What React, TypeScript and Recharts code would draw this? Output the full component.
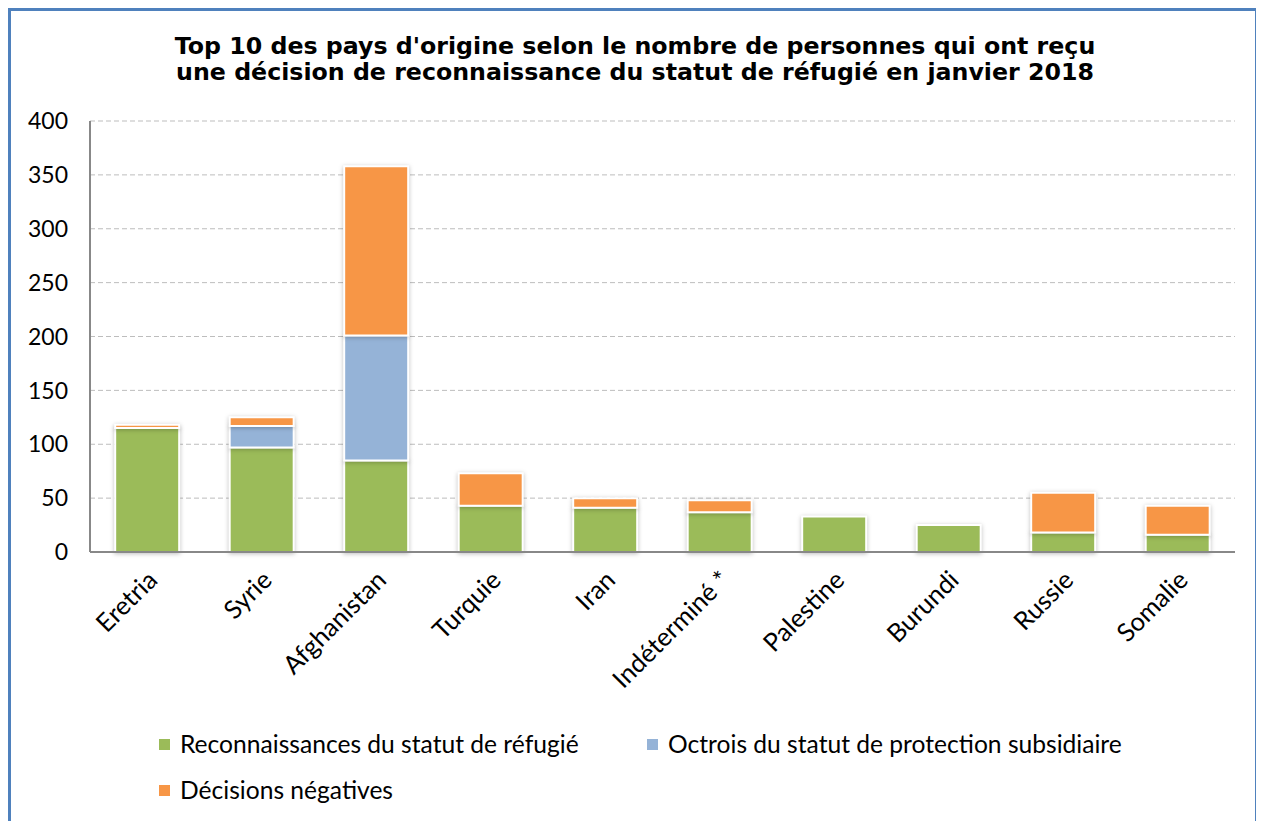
import React from "react";
import { BarChart, Bar, XAxis, YAxis, CartesianGrid } from "recharts";

const categories = ["Eretria", "Syrie", "Afghanistan", "Turquie", "Iran", "Indéterminé *", "Palestine", "Burundi", "Russie", "Somalie"];
const reconnaissances = [115, 97, 85, 43, 41, 37, 33, 25, 18, 16];
const protection = [0, 20, 116, 0, 0, 0, 0, 0, 0, 0];
const negatives = [3, 8, 157, 30, 9, 11, 0, 0, 37, 27];
const yTicks = [0, 50, 100, 150, 200, 250, 300, 350, 400];

const seriesNames = ["Reconnaissances du statut de réfugié", "Octrois du statut de protection subsidiaire", "Décisions négatives"];
const colors = ["#9BBB59", "#95B3D7", "#F79646"];

const data = categories.map((c, i) => ({
  name: c,
  rec: reconnaissances[i],
  prot: protection[i],
  neg: negatives[i],
}));

const FONT = "Lato, 'Open Sans', sans-serif";

const XTick = (props: any) => {
  const { x, y, payload } = props;
  return (
    <g transform={`translate(${x + 6},${y + 16})`}>
      <text textAnchor="end" transform="rotate(-45)" fontSize={25.5} fontFamily={FONT} fill="#000" dy={8}>
        {payload.value}
      </text>
    </g>
  );
};

export default function App() {
  const barStyle = { filter: "drop-shadow(0px 1px 2px rgba(0,0,0,0.25))" };
  return (
    <div style={{ position: "relative", width: 1250, height: 830 }}>
      <div style={{ position: "absolute", left: 0, top: 0, width: 1250, height: 830, border: "3px solid #4F81BD", boxSizing: "border-box" }} />
      <div style={{ position: "absolute", left: 0, top: 25, width: 1254, textAlign: "center", fontFamily: "'DejaVu Sans', Verdana, sans-serif", fontWeight: "bold", fontSize: 23.7, lineHeight: "26px", color: "#000" }}>
        Top 10 des pays d'origine selon le nombre de personnes qui ont reçu
        <br />
        une décision de reconnaissance du statut de réfugié en janvier 2018
      </div>
      <div style={{ position: "absolute", left: 0, top: 0 }}>
        <BarChart width={1250} height={720} data={data} margin={{ top: 113, right: 23, bottom: 26, left: 0 }} barCategoryGap="22%">
          <CartesianGrid vertical={false} stroke="#BDBDBD" strokeDasharray="5 3" />
          <XAxis dataKey="name" interval={0} height={150} tick={<XTick />} tickLine={false} axisLine={{ stroke: "#888", strokeWidth: 2 }} />
          <YAxis domain={[0, 400]} ticks={yTicks} width={82} tickLine={false} axisLine={{ stroke: "#888", strokeWidth: 2 }} tick={{ fontSize: 23, fontFamily: FONT, fill: "#000" }} tickMargin={16} />
          <Bar dataKey="rec" stackId="a" fill={colors[0]} stroke="#fff" strokeWidth={2} isAnimationActive={false} style={barStyle} />
          <Bar dataKey="prot" stackId="a" fill={colors[1]} stroke="#fff" strokeWidth={2} isAnimationActive={false} style={barStyle} />
          <Bar dataKey="neg" stackId="a" fill={colors[2]} stroke="#fff" strokeWidth={2} isAnimationActive={false} style={barStyle} />
        </BarChart>
      </div>
      {[
        { i: 0, x: 151, y: 723 },
        { i: 1, x: 639, y: 723 },
        { i: 2, x: 151, y: 769 },
      ].map(({ i, x, y }) => (
        <div key={i} style={{ position: "absolute", left: x, top: y, display: "flex", alignItems: "center", fontFamily: FONT, fontSize: 24.6, color: "#000", whiteSpace: "nowrap", lineHeight: "26px" }}>
          <span style={{ display: "inline-block", width: 11, height: 11, background: colors[i], marginRight: 10 }} />
          {seriesNames[i]}
        </div>
      ))}
    </div>
  );
}
